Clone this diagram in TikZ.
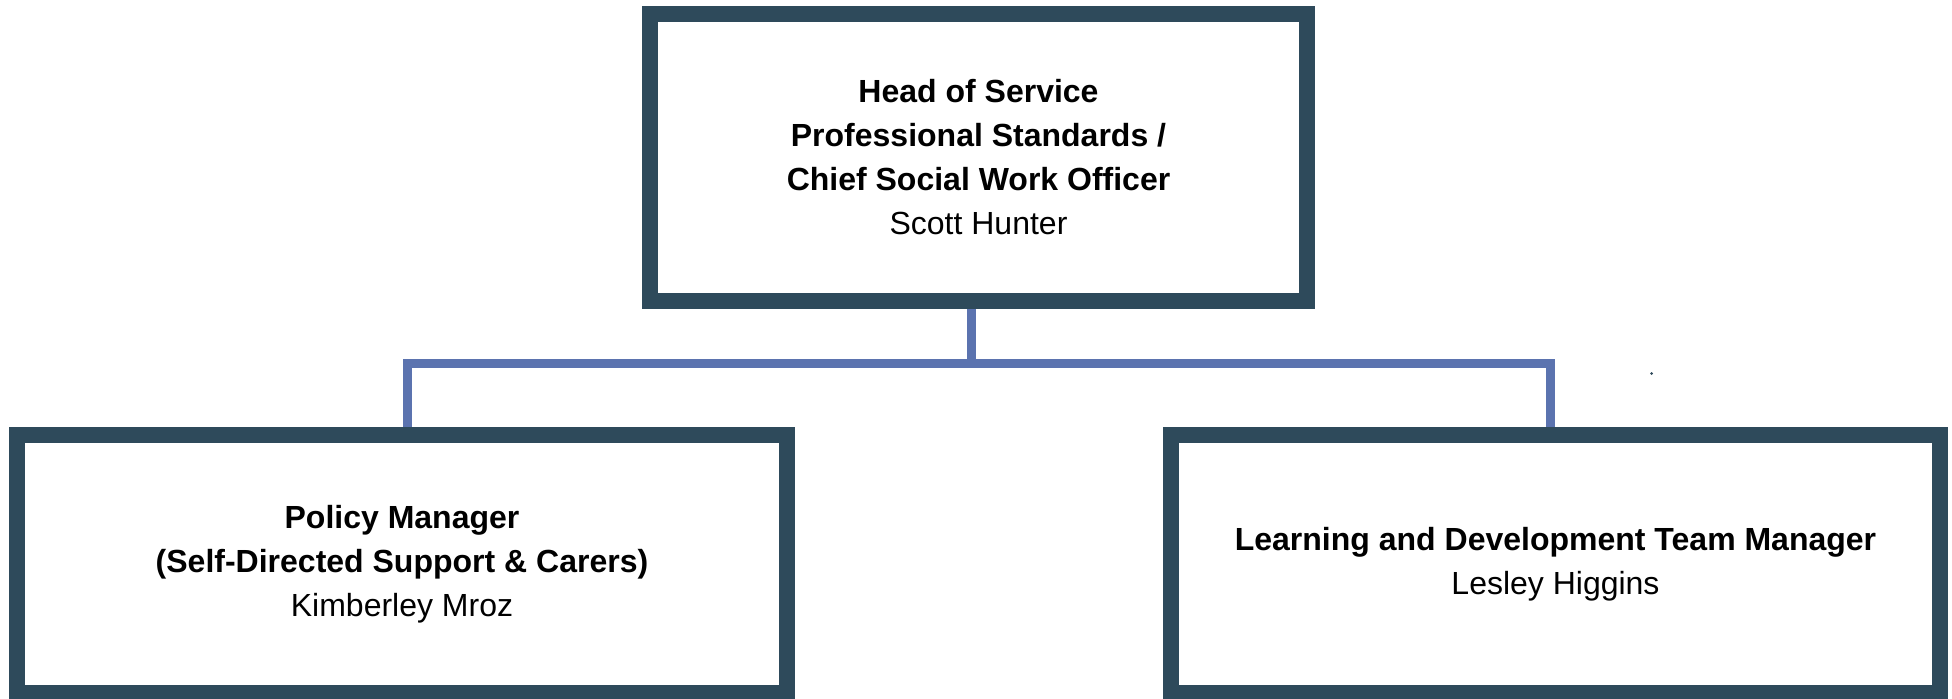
\documentclass[tikz,border=0pt]{standalone}
\usepackage{fontspec}
\setmainfont{Liberation Sans}
\definecolor{boxc}{HTML}{2E4A5B}
\definecolor{connc}{HTML}{5B73AF}
\tikzset{
  orgbox/.style={draw=boxc, line width=8pt, fill=white, rectangle, align=center,
    inner sep=0pt, font=\fontsize{16pt}{22pt}\selectfont},
  conn/.style={draw=connc, line width=4.5pt, line join=miter}
}
\begin{document}
\begin{tikzpicture}[x=0.5pt,y=-0.5pt]
\useasboundingbox (0,0) rectangle (1952,698);
\clip (0,0) rectangle (1952,698);
\node[orgbox, minimum width=328.5pt, minimum height=143.5pt] (top) at (978.5,157.5)
  {\textbf{Head of Service}\\\textbf{Professional Standards /}\\\textbf{Chief Social Work Officer}\\Scott Hunter};
\node[orgbox, minimum width=385pt, minimum height=129pt] (L) at (402,564)
  {\textbf{Policy Manager}\\\textbf{(Self-Directed Support \& Carers)}\\Kimberley Mroz};
\node[orgbox, minimum width=384.5pt, minimum height=129pt] (R) at (1555.5,564)
  {\textbf{Learning and Development Team Manager}\\Lesley Higgins};
\coordinate (bus) at (971,363.5);
\coordinate (busL) at (407,363.5);
\coordinate (busR) at (1550,363.5);
\draw[conn] (top.south -| bus) -- (bus);
\draw[conn] (busL |- L.north) -- (busL) -- (busR) -- (busR |- R.north);
\fill[boxc] (1651.5,373.5) circle[radius=1.5];
\end{tikzpicture}
\end{document}
